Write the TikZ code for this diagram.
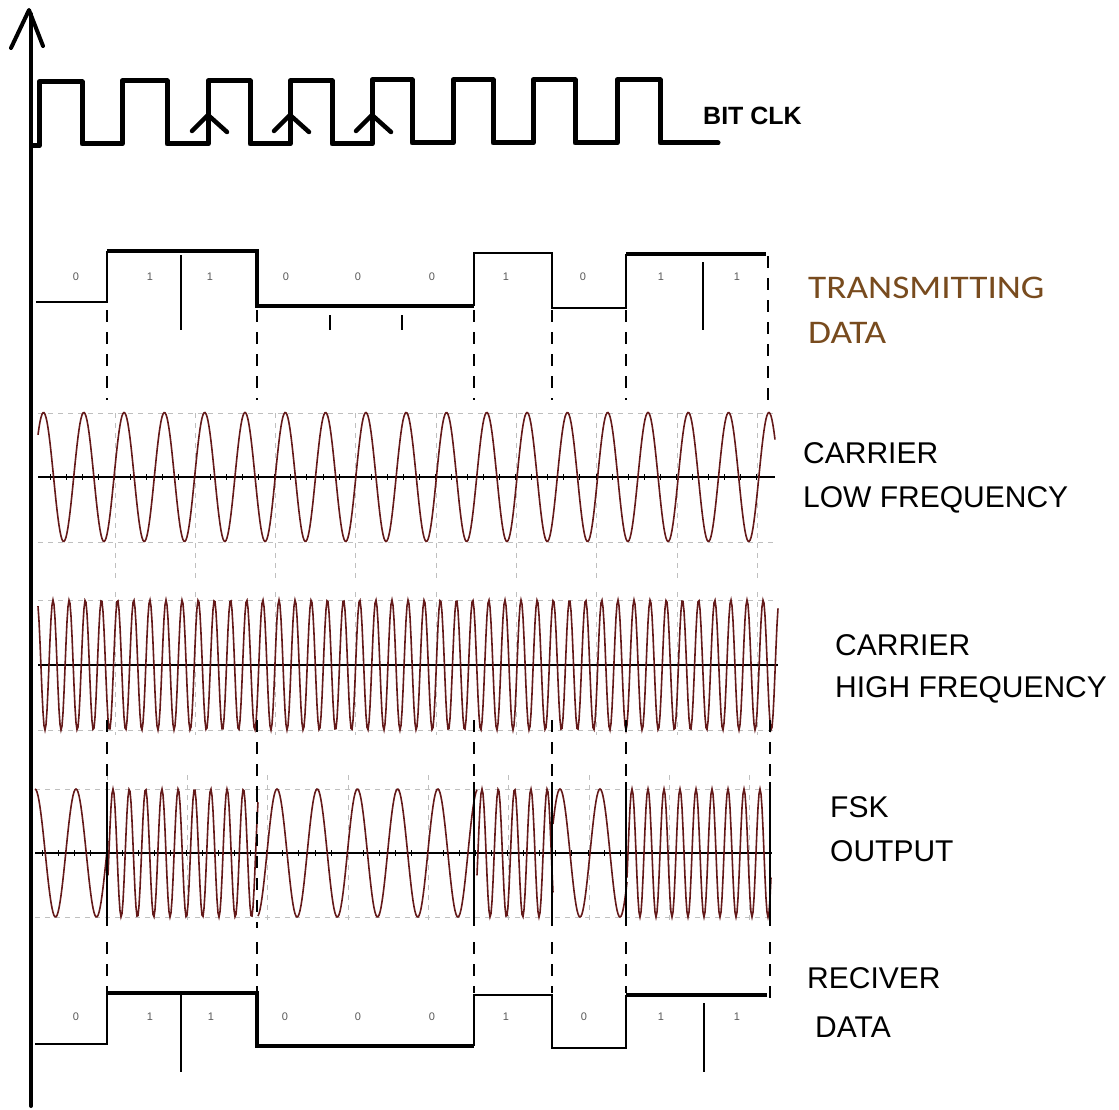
\documentclass[tikz,border=0pt]{standalone}
\usepackage{fontspec}
\setmainfont{Liberation Sans}
\newfontfamily\tdfont[FakeStretch=1.13]{Carlito}
\definecolor{wavecol}{RGB}{100,25,25}
\definecolor{tdcol}{RGB}{120,75,30}
\begin{document}
\begin{tikzpicture}[x=1pt,y=-1pt,
  axisline/.style={line width=4pt,line cap=round,line join=round},
  clk/.style={line width=5pt,line join=round,line cap=round},
  thickdata/.style={line width=4pt},
  thindata/.style={line width=1.8pt},
  guide/.style={line width=1.5pt,dash pattern=on 12pt off 10pt},
  bound/.style={line width=1.5pt},
  gridl/.style={line width=0.9pt,black!25,dash pattern=on 5pt off 5pt},
  wave/.style={line width=1.6pt,wavecol},
  zaxis/.style={line width=1.6pt},
  bitlbl/.style={font=\fontsize{11}{11}\selectfont,text=black!65,inner sep=0pt},
  lbl/.style={font=\fontsize{30}{30}\selectfont,anchor=base west,inner sep=0pt},
  tdlbl/.style={font=\tdfont\fontsize{33}{33}\selectfont,text=tdcol,anchor=base west,inner sep=0pt},
  clklbl/.style={font=\bfseries\fontsize{25}{25}\selectfont,anchor=base west,inner sep=0pt}]
\useasboundingbox (0,0) rectangle (1119,1110);
\fill[white] (0,0) rectangle (1119,1110);

% ---------- grids ----------
\foreach \y in {413,542} \draw[gridl] (38,\y) -- (775,\y);
\foreach \k in {0,...,8} \draw[gridl] ({115+80.3*\k},413) -- ({115+80.3*\k},578);
\foreach \y in {600,730} \draw[gridl] (38,\y) -- (778,\y);
\foreach \k in {0,...,8} \draw[gridl] ({115+80.3*\k},592) -- ({115+80.3*\k},735);
\foreach \y in {789,917} \draw[gridl] (35,\y) -- (772,\y);
\foreach \k in {1,...,9} \draw[gridl] ({27+80.3*\k},775) -- ({27+80.3*\k},922);

% ---------- centre axes ----------
\draw[zaxis] (38,477) -- (775,477);
\foreach \k in {0,...,44} \draw[line width=1pt] ({50+16.06*\k},474) -- ({50+16.06*\k},480);
\draw[zaxis] (38,665) -- (778,665);
\draw[zaxis] (35,853) -- (772,853);
\foreach \k in {0,...,44} \draw[line width=1pt] ({42+16.06*\k},850) -- ({42+16.06*\k},856);

% ---------- carriers ----------
\draw[wave] plot[domain=38:775,samples=738] (\x,{477-64.5*cos(8.933*(\x-406.2))});
\draw[wave] plot[domain=38:778,samples=741] (\x,{665-65*cos(22.305*(\x-408.1))});

% ---------- FSK output ----------
\draw[wave] plot[domain=35:108,samples=74] (\x,{853-64*cos(8.780*(\x-35))});
\draw[wave] plot[domain=108:258,samples=151] (\x,{853-64*cos(22.086*(\x-113))});
\draw[wave] plot[domain=258:477,samples=220] (\x,{853-64*cos(8.955*(\x-277))});
\draw[wave] plot[domain=477:553,samples=77] (\x,{853-64*cos(22.086*(\x-482))});
\draw[wave] plot[domain=553:627,samples=75] (\x,{853-64*cos(9.0*(\x-560))});
\draw[wave] plot[domain=627:771,samples=145] (\x,{853-64*cos(22.5*(\x-648))});

% ---------- boundary guides ----------
\foreach \x in {107,257,474,552,626} \draw[guide] (\x,310) -- (\x,400);
\draw[guide] (768,256) -- (768,400);
\foreach \x in {107,257,474,552,626,770} \draw[guide] (\x,720) -- (\x,790);
\foreach \x in {107,474,552,626,770} \draw[bound] (\x,782) -- (\x,926);
\draw[guide] (257,790) -- (257,928);
\foreach \x in {107,257,474,552,626} \draw[guide] (\x,942) -- (\x,993);
\draw[guide] (770,942) -- (770,1008);

% ---------- vertical axis ----------
\draw[axisline] (31,1106) -- (31,14);
\draw[axisline] (11,48) -- (29,10) -- (43,46);

% ---------- bit clock ----------
\draw[clk] (33,146) -- (39,146) -- (39,82) -- (82,82) -- (82,144) -- (122,144) -- (122,81)
  -- (167,81) -- (167,144) -- (208,144) -- (208,81) -- (250,81) -- (250,144) -- (290,144)
  -- (290,81) -- (332,81) -- (332,144) -- (372,144) -- (372,80) -- (412,80) -- (412,143)
  -- (453,143) -- (453,80) -- (493,80) -- (493,143) -- (533,143) -- (533,80) -- (575,80)
  -- (575,143) -- (617,143) -- (617,80) -- (660,80) -- (660,143) -- (718,143);
\foreach \x in {208,290,372} \draw[line width=4.5pt,line cap=round,line join=round] (\x-16,131) -- (\x,115) -- (\x+19,132);
\node[clklbl] (bitclk) at (703,125) {BIT CLK};

% ---------- transmitting data ----------
\draw[thindata] (36,302) -- (107,302) -- (107,251);
\draw[thickdata] (107,251) -- (257,251) -- (257,306) -- (474,306);
\draw[thindata] (474,306) -- (474,253) -- (552,253) -- (552,308) -- (626,308) -- (626,254);
\draw[thickdata] (626,254) -- (766,254);
\draw[thindata] (181,255) -- (181,330);
\draw[thindata] (703,262) -- (703,330);
\draw[thindata] (330,315) -- (330,330);
\draw[thindata] (402,315) -- (402,330);
\foreach \x/\b [count=\i] in {76/0,150/1,210/1,286/0,358/0,432/0,506/1,583/0,661/1,737/1}
  \node[bitlbl] (tb\i) at (\x,277) {\b};
\node[tdlbl] (td1) at (808,298) {TRANSMITTING};
\node[tdlbl] (td2) at (808,343) {DATA};

% ---------- labels ----------
\node[lbl] (cl1) at (803,463) {CARRIER};
\node[lbl] (cl2) at (803,507) {LOW FREQUENCY};
\node[lbl] (ch1) at (835,655) {CARRIER};
\node[lbl] (ch2) at (835,697) {HIGH FREQUENCY};
\node[lbl] (fsk1) at (830,817) {FSK};
\node[lbl] (fsk2) at (830,861) {OUTPUT};
\node[lbl] (rx1) at (807,988) {RECIVER};
\node[lbl] (rx2) at (815,1037) {DATA};

% ---------- receiver data ----------
\draw[thindata] (35,1044) -- (107,1044) -- (107,993);
\draw[thickdata] (107,993) -- (257,993) -- (257,1046) -- (474,1046);
\draw[thindata] (474,1046) -- (474,995) -- (552,995) -- (552,1048) -- (626,1048) -- (626,995);
\draw[thickdata] (626,995) -- (767,995);
\draw[thindata] (181,993) -- (181,1072);
\draw[thindata] (704,1003) -- (704,1072);
\foreach \x/\b [count=\i] in {76/0,150/1,211/1,285/0,358/0,432/0,506/1,584/0,661/1,737/1}
  \node[bitlbl] (rb\i) at (\x,1017) {\b};
\end{tikzpicture}
\end{document}
